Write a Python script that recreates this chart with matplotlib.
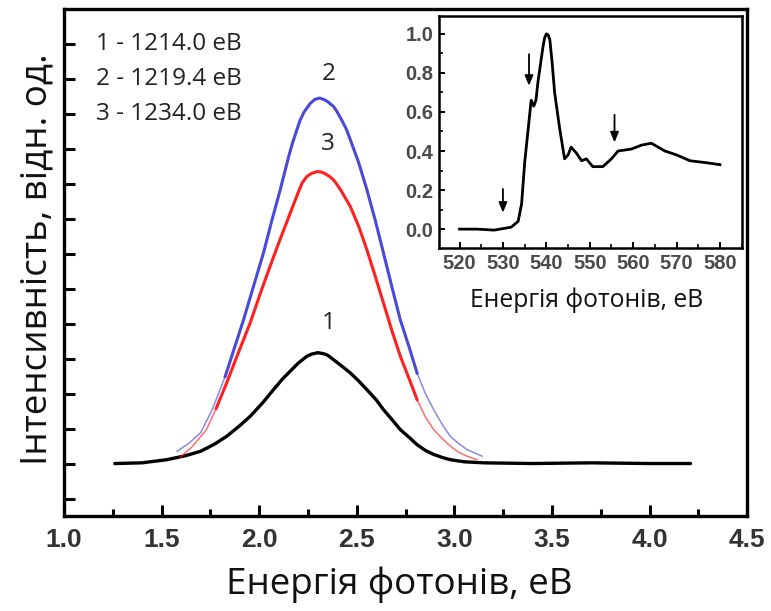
import matplotlib.pyplot as plt
import numpy as np
from matplotlib.ticker import MultipleLocator

# luminescence spectra, photon energy (eV) vs intensity (arb. units)
black_x = [1.26, 1.40, 1.527, 1.62, 1.70, 1.77, 1.834, 1.90, 1.954, 2.02, 2.073, 2.12,
           2.159, 2.20, 2.245, 2.27, 2.30, 2.33, 2.35, 2.381, 2.42, 2.467, 2.51, 2.552,
           2.60, 2.637, 2.68, 2.723, 2.77, 2.809, 2.85, 2.894, 2.94, 2.979, 3.05, 3.15,
           3.4, 3.7, 4.0, 4.21]
black_y = [0.0, 0.02, 0.11, 0.22, 0.35, 0.55, 0.78, 1.08, 1.35, 1.75, 2.11, 2.42,
           2.64, 2.87, 3.07, 3.13, 3.17, 3.14, 3.10, 2.97, 2.80, 2.59, 2.36, 2.11,
           1.82, 1.54, 1.26, 0.97, 0.74, 0.54, 0.38, 0.26, 0.17, 0.11, 0.05, 0.02,
           0.0, 0.02, 0.0, 0.0]

blue_x = [1.58, 1.64, 1.70, 1.76, 1.826, 1.87, 1.92, 1.97, 2.022, 2.065, 2.108, 2.15,
          2.17, 2.193, 2.21, 2.23, 2.262, 2.285, 2.31, 2.335, 2.35, 2.381, 2.40, 2.42,
          2.445, 2.467, 2.51, 2.552, 2.595, 2.637, 2.68, 2.723, 2.77, 2.809, 2.85, 2.894,
          2.94, 2.979, 3.02, 3.065, 3.142]
blue_y = [0.35, 0.58, 0.88, 1.55, 2.49, 3.25, 4.11, 5.05, 6.02, 6.95, 7.83, 8.75,
          9.15, 9.54, 9.82, 10.05, 10.3, 10.41, 10.45, 10.40, 10.35, 10.21, 10.05, 9.85,
          9.58, 9.26, 8.60, 7.83, 6.95, 6.02, 5.05, 4.11, 3.30, 2.59, 2.02, 1.54,
          1.10, 0.78, 0.58, 0.40, 0.21]

red_x = [1.595, 1.66, 1.73, 1.78, 1.834, 1.89, 1.954, 2.005, 2.056, 2.11, 2.159, 2.20,
         2.22, 2.245, 2.27, 2.30, 2.32, 2.34, 2.36, 2.381, 2.40, 2.42, 2.467, 2.51,
         2.552, 2.595, 2.637, 2.68, 2.723, 2.77, 2.809, 2.85, 2.894, 2.94, 2.979, 3.02,
         3.065, 3.116]
red_y = [0.17, 0.50, 0.97, 1.58, 2.31, 3.12, 4.02, 4.85, 5.64, 6.45, 7.16, 7.75,
         8.02, 8.21, 8.30, 8.35, 8.33, 8.28, 8.21, 8.11, 7.97, 7.80, 7.35, 6.78,
         6.11, 5.35, 4.59, 3.80, 3.07, 2.40, 1.83, 1.35, 0.97, 0.70, 0.50, 0.33,
         0.21, 0.11]

legend_lines = ['1 - 1214.0 eB', '2 - 1219.4 eB', '3 - 1234.0 eB']
curve_labels = ['1', '2', '3']
curve_label_y = [4.03, 11.14, 9.14]

# absorption spectrum for the inset
xas_x = [520, 524, 528, 531.9, 533.5, 534.3, 535.0, 535.8, 536.5, 537.1, 537.6, 538.1,
         539.2, 539.6, 540.0, 540.4, 540.8, 541.3, 541.9, 543.1, 544.2, 545.0, 545.7,
         546.9, 548.1, 549.2, 550.7, 553.0, 555.0, 556.5, 559.6, 561.9, 564.2, 567.3,
         570.0, 573.1, 576.9, 580.0]
xas_y = [0.0, 0.0, -0.005, 0.01, 0.04, 0.13, 0.34, 0.51, 0.66, 0.63, 0.66, 0.76,
         0.93, 0.98, 1.0, 0.995, 0.97, 0.86, 0.70, 0.51, 0.36, 0.38, 0.42,
         0.39, 0.35, 0.36, 0.32, 0.32, 0.36, 0.40, 0.41, 0.43, 0.44, 0.40,
         0.38, 0.35, 0.34, 0.33]
arrow_x = [530.0, 536.0, 555.7]
arrow_top = [0.22, 0.91, 0.60]
arrow_tip = [0.07, 0.72, 0.43]

text_font = ['Open Sans', 'DejaVu Sans']
tick_font = ['Liberation Sans', 'DejaVu Sans']

fig = plt.figure(figsize=(7.71, 6.11), dpi=100)
ax = fig.add_axes([0.083, 0.1555, 0.886, 0.830])

ax.plot(black_x, black_y, color='black', lw=2.4, solid_capstyle='round')
for xs, ys, col, lim in [(blue_x, blue_y, '#4a4ad8', 2.4), (red_x, red_y, '#ff2020', 1.5)]:
    xs = np.array(xs)
    ys = np.array(ys)
    # faint tails near the baseline, thicker line for the main peak
    ax.plot(xs, ys, color=col, lw=1.1, alpha=0.65)
    core = ys >= lim
    ax.plot(xs[core], ys[core], color=col, lw=2.2)

for i, line in enumerate(legend_lines):
    ax.text(1.164, 12 - i, line, family=text_font, fontsize=17.5,
            color='#222222', va='center', ha='left')
for lab, yy in zip(curve_labels, curve_label_y):
    ax.text(2.354, yy, lab, family=text_font, fontsize=17.5,
            color='#222222', va='center', ha='center')

ax.set_xlim(1.0, 4.5)
ax.set_ylim(-1.5, 13.0)
ax.xaxis.set_major_locator(MultipleLocator(0.5))
ax.xaxis.set_minor_locator(MultipleLocator(0.25))
ax.tick_params(axis='x', which='major', direction='in', length=8, width=2.2,
               pad=9, labelsize=19, labelcolor='#333333')
ax.tick_params(axis='x', which='minor', direction='in', length=5, width=2.2)
ax.tick_params(axis='y', which='major', direction='in', length=8, width=2.2,
               labelleft=False)
ax.set_yticks(np.arange(-1, 13))
for t in ax.get_xticklabels():
    t.set_family(tick_font)
    t.set_fontweight('bold')
for s in ax.spines.values():
    s.set_linewidth(2.4)

fig.text(0.5175, 0.0426, 'Енергія фотонів, еВ', family=text_font, fontsize=26.5,
         ha='center', va='center', color='#111111')
fig.text(0.049, 0.576, 'Інтенсивність, відн. од.', family=text_font, fontsize=26.5,
         rotation=90, ha='center', va='center', color='#111111')

# inset with the absorption edge
ins = fig.add_axes([0.569, 0.594, 0.393, 0.380])
ins.plot(xas_x, xas_y, color='black', lw=2.0)
for xa, yt, yb in zip(arrow_x, arrow_top, arrow_tip):
    ins.annotate('', xy=(xa, yb), xytext=(xa, yt),
                 arrowprops=dict(arrowstyle='-|>,head_length=0.6,head_width=0.25',
                                 color='black', lw=1.3))
ins.set_xlim(515.2, 585.0)
ins.set_ylim(-0.097, 1.092)
ins.xaxis.set_major_locator(MultipleLocator(10))
ins.xaxis.set_minor_locator(MultipleLocator(5))
ins.yaxis.set_major_locator(MultipleLocator(0.2))
ins.yaxis.set_minor_locator(MultipleLocator(0.1))
ins.tick_params(which='major', direction='in', length=4, width=1.4,
                labelsize=14.5, labelcolor='#4a4a4a', pad=4)
ins.tick_params(which='minor', direction='in', length=3, width=1.2)
for t in ins.get_xticklabels() + ins.get_yticklabels():
    t.set_family(tick_font)
    t.set_fontweight('bold')
for s in ins.spines.values():
    s.set_linewidth(1.8)
ins.yaxis.set_major_formatter(plt.FormatStrFormatter('%.1f'))
ins.xaxis.set_major_formatter(plt.FormatStrFormatter('%d'))

fig.text(0.761, 0.509, 'Енергія фотонів, еВ', family=text_font, fontsize=17.8,
         ha='center', va='center', color='#111111')

fig.savefig('out.png', dpi=100)
